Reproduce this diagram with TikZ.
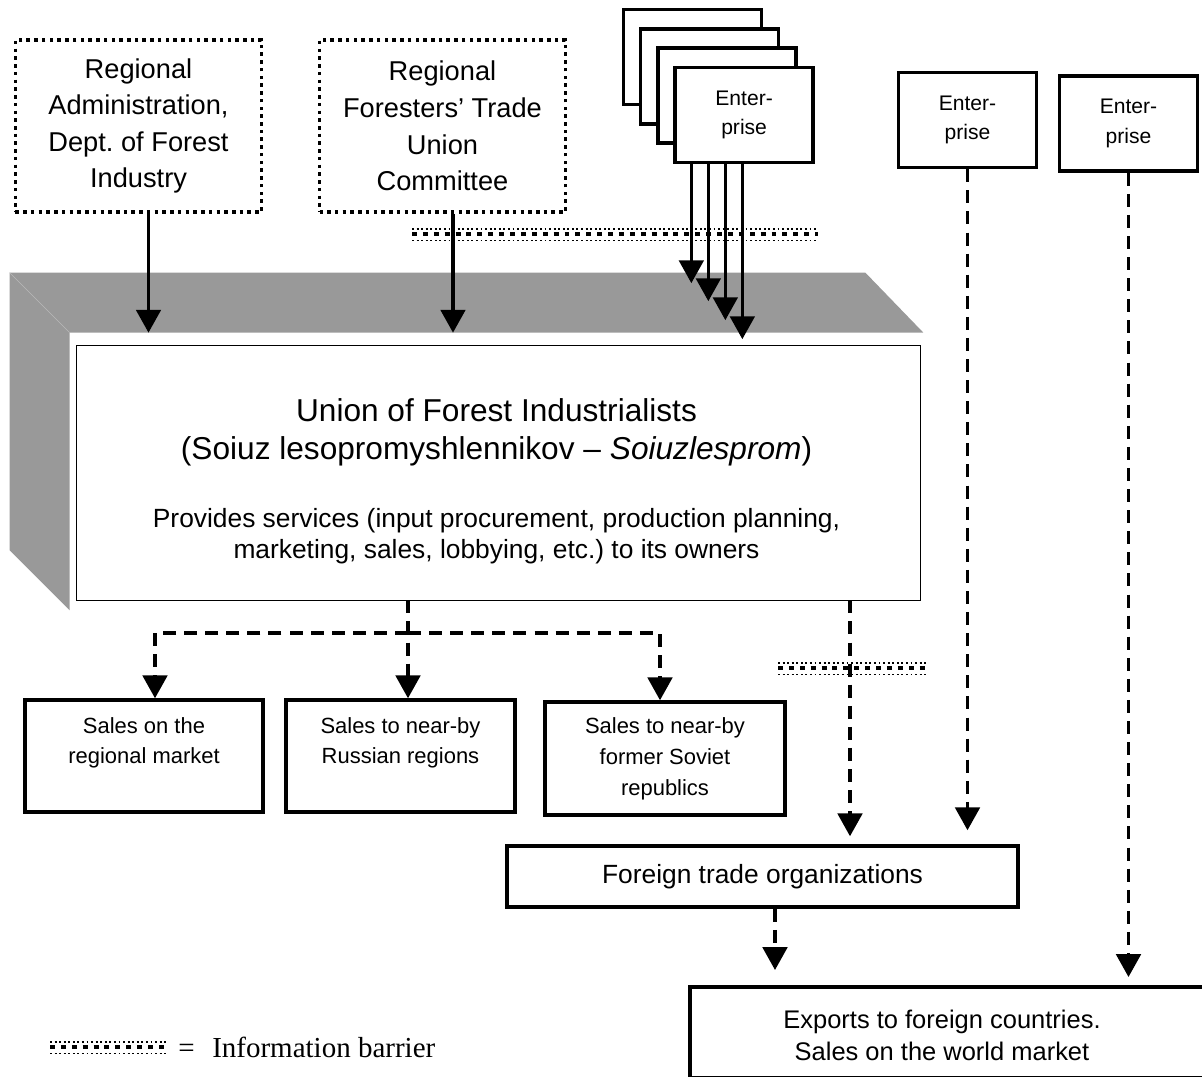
\documentclass[tikz,border=0pt]{standalone}
\usepackage{fontspec}
\setmainfont{Liberation Sans}
\newfontfamily\legendfont{Liberation Serif}
\usepackage{tikz}
\usetikzlibrary{arrows.meta,calc,positioning,backgrounds}

% three rows of dots = information barrier
\newcommand{\infobarrier}[3]{%
  \draw[bardot] (#1,#3-5) -- (#2,#3-5);
  \draw[barsq] (#1,#3) -- (#2,#3);
  \draw[bardot] (#1,#3+6.5) -- (#2,#3+6.5);
}

\begin{document}
\frenchspacing
\begin{tikzpicture} [x=0.2mm, y=-0.2mm,
dotbox/.style    = { rectangle, draw=black, line width=2pt,
    dash pattern=on 2pt off 2.4pt, align=center,
    font=\fontsize{15.5}{20.8}\selectfont,
    minimum width=49.2mm, minimum height=34.4mm },
entbox/.style    = { rectangle, draw=black, line width=2pt, fill=white,
    align=center, font=\fontsize{12}{17}\selectfont,
    minimum width=27.6mm, minimum height=19mm },
union/.style     = { rectangle, fill=white, inner sep=0pt,
    minimum width=170.6mm, minimum height=55.4mm },
uniontext/.style = { inner sep=0pt, text width=165mm, align=flush center,
    font=\fontsize{18}{21.6}\selectfont },
salebox/.style   = { rectangle, draw=black, line width=2pt,
    align=center, font=\fontsize{12.5}{17.6}\selectfont,
    minimum height=22.4mm },
tradebox/.style  = { rectangle, draw=black, line width=2pt,
    align=center, font=\fontsize{14.5}{18.2}\selectfont },
bardot/.style    = { line width=1.1pt, dash pattern=on 1.1pt off 1.5pt },
barsq/.style     = { line width=2.8pt, dash pattern=on 2.8pt off 3.4pt },
legend/.style    = { inner sep=0pt, font=\legendfont\fontsize{16.5}{20}\selectfont },
arr/.style       = { draw, line width=1.8pt, -{Triangle[width=14pt,length=13pt]} },
darr/.style      = { arr, dash pattern=on 7.4pt off 4.6pt },
]
\definecolor{slabgray}{RGB}{153,153,153}
\definecolor{slabedge}{RGB}{185,185,185}

\useasboundingbox (0,0) rectangle (1202,1077);
\clip (0,0) rectangle (1202,1077);

% owners
\node[dotbox] (admin) at (138.5,126) {Regional\\Administration,\\Dept. of Forest\\Industry};
\node[dotbox] (tradeunion) at (442.5,126) {Regional\\Foresters' Trade\\Union\\Committee};
\node[entbox] (ent1) at (692.5,57) {};
\node[entbox] (ent2) at ([shift={(17.2,19.3)}]ent1.center) {};
\node[entbox] (ent3) at ([shift={(17.2,19.3)}]ent2.center) {};
\node[entbox] (ent4) at ([shift={(17.2,19.3)}]ent3.center) {Enter-\\prise};
\node[entbox] (entA) at (967.5,120) {Enter-\\prise};
\node[entbox] (entB) at (1128.5,123.5) {Enter-\\prise};

% the union
\node[union] (union) at (496.5,471.5) {};
\node[uniontext] (unionText) at ([yshift=-2mm]union.center) {Union of Forest Industrialists\\
  (Soiuz lesopromyshlennikov -- \textit{Soiuzlesprom})\par\vspace{21pt}
  \fontsize{15}{17.6}\selectfont Provides services (input procurement, production planning,\\
  marketing, sales, lobbying, etc.) to its owners\par};
\coordinate (innerNW) at ([shift={(7,13)}]union.north west);
\coordinate (innerSE) at ([shift={(-3,-10)}]union.south east);
\draw[line width=0.7pt] (innerNW) rectangle (innerSE);

\begin{pgfonlayer}{background}
    \fill[slabgray] ($(union.north west)+(-60,-60)$) -- ($(union.north east)+(-58,-60)$)
        -- (union.north east) -- (union.north west) -- (union.south west)
        -- ($(union.south west)+(-60,-60)$) -- cycle;
    \draw[slabedge, line width=0.4pt] (union.north west) -- +(-60,-60);
\end{pgfonlayer}

% sales
\node[salebox, minimum width=47.6mm] (sal1) at (144,756) {Sales on the\\regional market\\~};
\node[salebox, minimum width=45.8mm] (sal2) at (400.5,756) {Sales to near-by\\Russian regions\\~};
\node[salebox, minimum width=48mm, minimum height=22.6mm] (sal3) at (665,758.5) {Sales to near-by\\former Soviet\\republics};
\node[tradebox, minimum width=102.2mm, minimum height=12.2mm, font=\fontsize{15}{18.2}\selectfont] (ftrade) at (762.5,876.5) {Foreign trade organizations};
\node[tradebox, anchor=north west, minimum width=112mm, minimum height=18.2mm] (exports) at (688,985) {};
\node[tradebox, draw=none] (exportsText) at (942,1035) {Exports to foreign countries.\\Sales on the world market};

% barriers and legend
\infobarrier{412}{818}{234}
\infobarrier{778}{928}{668}
\infobarrier{50}{168}{1047}
\coordinate (legbar) at (168,1047);
\node[legend, right=2mm of legbar] (legendText) {=\hspace{10pt}Information barrier};

% tap points
\coordinate (adminOut) at ([xshift=2mm]admin.south);
\coordinate (unionOut) at ([xshift=2.1mm]tradeunion.south);
\coordinate (fork) at (408,633);
\coordinate (leftIn) at ([xshift=2.2mm]sal1.north);
\coordinate (rightIn) at ([xshift=-1mm]sal3.north);
\coordinate (tradeIn) at ([xshift=17.5mm]ftrade.north);
\coordinate (tradeOut) at ([xshift=2.5mm]ftrade.south);

% connect all nodes defined above
\begin{scope} [every path/.style=arr]
\path (adminOut) -- (adminOut |- union.north);
\path (unionOut) -- (unionOut |- union.north);
\foreach \dx/\len in {18/119, 35/137, 52/156, 69/175}
    \path (ent4.south west) ++(\dx,0) -- ++(0,\len);
\end{scope}

\begin{scope} [every path/.style=darr]
\path (fork |- innerSE) -- (fork |- sal2.north);
\path (fork) -| (leftIn);
\path (fork) -| (rightIn);
\path[shorten >=1.6mm] (tradeIn |- innerSE) -- (tradeIn);
\path[shorten >=2.8mm] (entA.south) -- (entA.south |- ftrade.north);
\path[shorten >=3mm] (tradeOut) -- (tradeOut |- exports.north);
\path[shorten >=1.6mm] (entB.south) -- (entB.south |- exports.north);
\end{scope}

\end{tikzpicture}
\end{document}
